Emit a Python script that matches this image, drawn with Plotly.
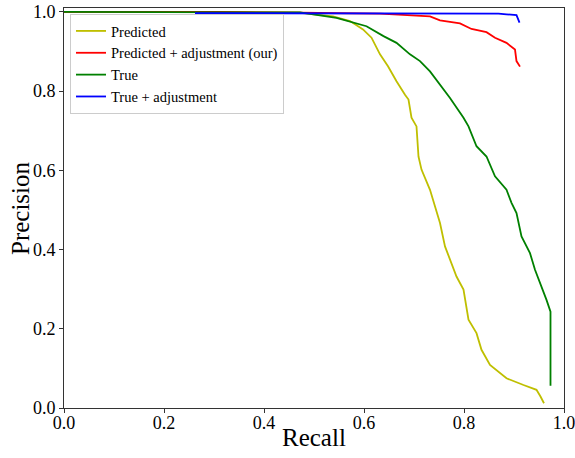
import plotly.graph_objects as go

# Predicted
pred_recall = [0.0, 0.30, 0.472, 0.538, 0.572, 0.598, 0.615, 0.632, 0.648, 0.665, 0.682, 0.689,
               0.695, 0.705, 0.709, 0.715, 0.732, 0.742, 0.752, 0.762, 0.772, 0.785, 0.799,
               0.809, 0.825, 0.835, 0.852, 0.885, 0.919, 0.945, 0.953, 0.960]
pred_prec = [1.0, 1.0, 0.998, 0.989, 0.977, 0.956, 0.935, 0.893, 0.863, 0.825, 0.791, 0.779,
             0.733, 0.711, 0.635, 0.602, 0.551, 0.509, 0.467, 0.408, 0.374, 0.332, 0.299,
             0.223, 0.189, 0.147, 0.109, 0.075, 0.058, 0.046, 0.029, 0.012]

# Predicted + adjustment (our)
padj_recall = [0.0, 0.30, 0.47, 0.632, 0.732, 0.752, 0.792, 0.815, 0.845, 0.862, 0.885,
               0.902, 0.905, 0.912]
padj_prec = [1.0, 1.0, 0.998, 0.996, 0.989, 0.979, 0.971, 0.957, 0.949, 0.935, 0.922,
             0.905, 0.876, 0.862]

# True
true_recall = [0.0, 0.30, 0.472, 0.545, 0.579, 0.605, 0.639, 0.665, 0.692, 0.712, 0.732, 0.752,
               0.772, 0.799, 0.809, 0.825, 0.845, 0.862, 0.885, 0.895, 0.905, 0.915, 0.932,
               0.942, 0.955, 0.965, 0.973, 0.973]
true_prec = [1.0, 1.0, 0.999, 0.985, 0.974, 0.964, 0.939, 0.922, 0.893, 0.876, 0.850, 0.816,
             0.783, 0.733, 0.711, 0.661, 0.635, 0.585, 0.551, 0.518, 0.492, 0.433, 0.391,
             0.349, 0.307, 0.273, 0.243, 0.056]

# True + adjustment
tadj_recall = [0.262, 0.60, 0.869, 0.885, 0.905, 0.911]
tadj_prec = [0.997, 0.997, 0.996, 0.994, 0.992, 0.973]

series = [
    ("Predicted", pred_recall, pred_prec, "#bfbf00"),
    ("Predicted + adjustment (our)", padj_recall, padj_prec, "#ff0000"),
    ("True", true_recall, true_prec, "#008000"),
    ("True + adjustment", tadj_recall, tadj_prec, "#0000ff"),
]

x_ticks = [0.0, 0.2, 0.4, 0.6, 0.8, 1.0]
y_ticks = [0.0, 0.2, 0.4, 0.6, 0.8, 1.0]

fig = go.Figure()
for name, xs, ys, col in series:
    fig.add_trace(go.Scatter(x=xs, y=ys, mode="lines", name=name,
                             line=dict(color=col, width=1.8)))

SERIF = "Times New Roman, Liberation Serif, serif"
fig.update_layout(
    width=575, height=458,
    margin=dict(l=64, r=11, t=8, b=50),
    plot_bgcolor="white", paper_bgcolor="white",
    font=dict(family=SERIF, color="black", size=18),
    showlegend=True,
    legend=dict(x=0.012, y=0.985, xanchor="left", yanchor="top",
                bgcolor="rgba(255,255,255,0.8)", bordercolor="#ccc", borderwidth=1,
                font=dict(family=SERIF, size=14.5), tracegroupgap=0),
    annotations=[
        dict(text="Recall", x=0.5, y=-0.073, xref="paper", yref="paper",
             xanchor="center", yanchor="middle", showarrow=False,
             font=dict(family=SERIF, size=25, color="black")),
        dict(text="Precision", x=-0.088, y=0.5, xref="paper", yref="paper",
             xanchor="center", yanchor="middle", showarrow=False, textangle=-90,
             font=dict(family=SERIF, size=25, color="black")),
    ],
)
fig.update_xaxes(range=[0, 1], tickvals=x_ticks, ticktext=[f"{v:.1f}" for v in x_ticks],
                 ticklabelstandoff=-6)
fig.update_yaxes(range=[0, 1.01], tickvals=y_ticks, ticktext=[f"{v:.1f}" for v in y_ticks])
common = dict(showline=True, linecolor="#333", linewidth=1, mirror=True,
              ticks="outside", ticklen=4, tickcolor="#333", showgrid=False,
              zeroline=False, automargin=False, ticklabeloverflow="allow",
              tickfont=dict(family=SERIF, size=18, color="black"))
fig.update_xaxes(**common)
fig.update_yaxes(**common)

fig.write_html("out.html", config={"displayModeBar": False},
               post_script="document.body.style.margin='0';")
